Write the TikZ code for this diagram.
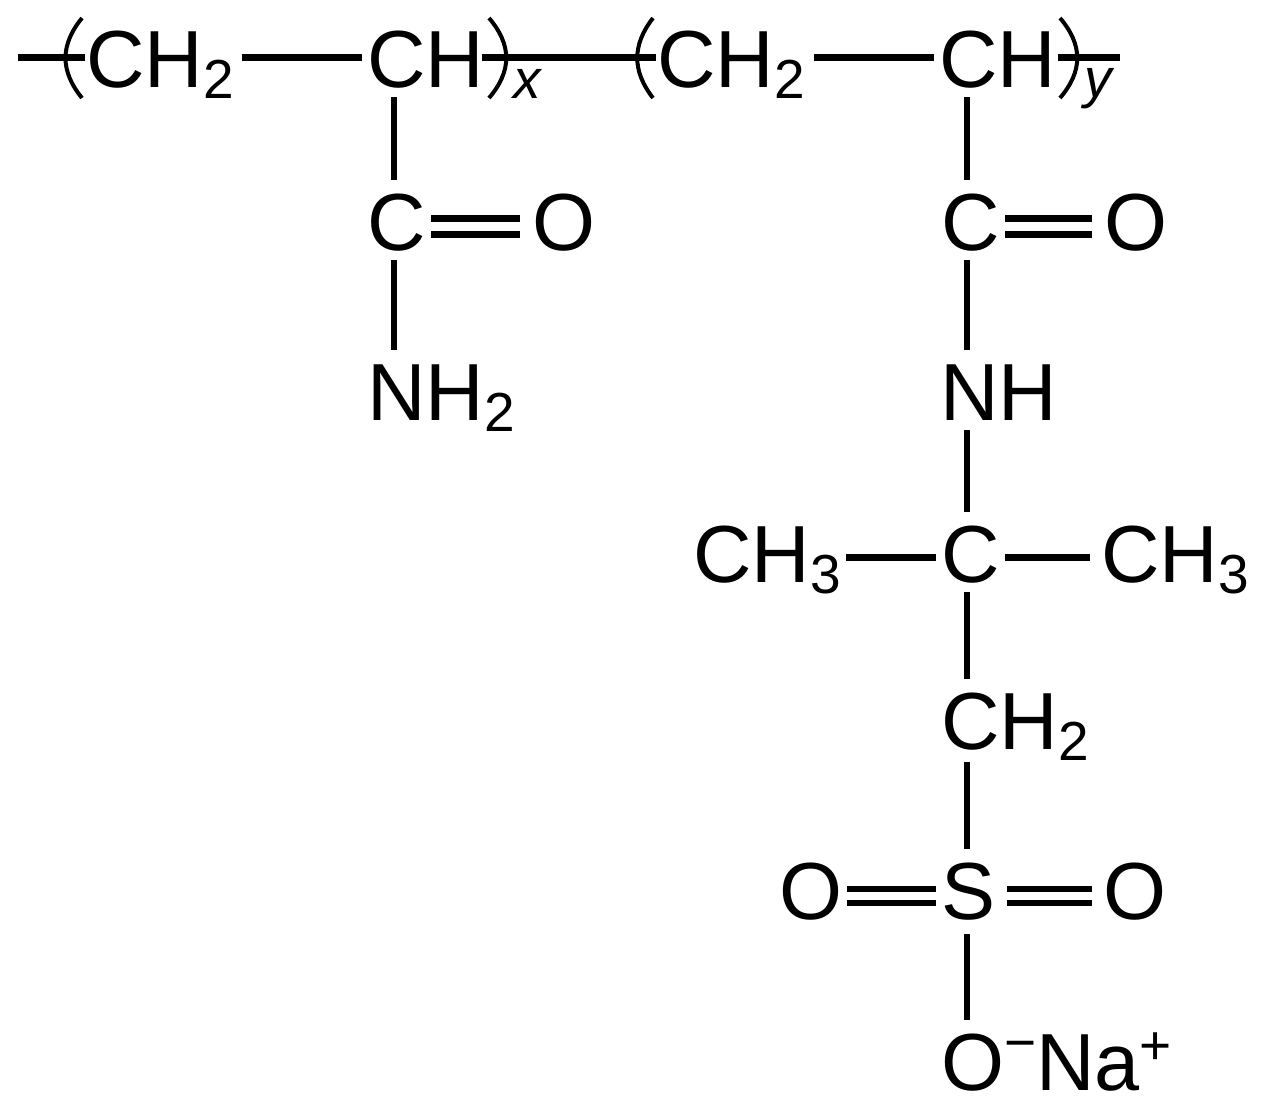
\documentclass[tikz,border=0pt]{standalone}
\usepackage{fontspec}
\setmainfont{Liberation Sans}
\newcommand{\lowtwo}[1]{\raisebox{-11pt}{\fontsize{55}{55}\selectfont #1}}
\newcommand{\hightwo}[2]{\raisebox{#1}{\fontsize{55}{55}\selectfont #2}}
\tikzset{
  atom/.style={anchor=base west,inner ysep=0pt,inner xsep=5pt,text height=70pt,text depth=10pt,font=\fontsize{81}{81}\selectfont},
  repeatlabel/.style={anchor=base west,inner sep=0pt,font=\fontsize{55}{55}\selectfont\itshape},
  hbond/.style={line width=7pt,black},
  vbond/.style={line width=5.5pt,black},
  dblA/.style={line width=7pt,double,double distance=9pt,black},
  dblB/.style={line width=6pt,double,double distance=8pt,black},
  paren/.style={line width=4pt,black}
}
\begin{document}
\begin{tikzpicture}[x=1pt,y=-1pt]
\useasboundingbox (0,0) rectangle (1266,1117);
\fill[white] (0,0) rectangle (1266,1117);
% row 1
\node[atom] (chtwoa) at (81,87) {CH\lowtwo{2}};
\node[atom] (cha) at (362,87) {CH};
\node[atom] (chtwob) at (652,87) {CH\lowtwo{2}};
\node[atom] (chb) at (934,87) {CH};
\node[repeatlabel] (labx) at (513,98) {x};
\node[repeatlabel] (laby) at (1084,97) {y};
% row 2
\node[atom] (ca) at (362,250) {C};
\node[atom] (oa) at (527,250) {O};
\node[atom] (cb) at (936,250) {C};
\node[atom] (ob) at (1099,250) {O};
% row 3
\node[atom] (nhtwo) at (362,420) {NH\lowtwo{2}};
\node[atom] (nh) at (935,420) {NH};
% row 4
\node[atom] (methl) at (688,582) {CH\lowtwo{3}};
\node[atom] (cc) at (936,582) {C};
\node[atom] (methr) at (1096,582) {CH\lowtwo{3}};
% rows 5-7
\node[atom] (chtwoc) at (936,749) {CH\lowtwo{2}};
\node[atom] (ol) at (774,919) {O};
\node[atom] (sul) at (936,919) {S};
\node[atom] (or) at (1098,919) {O};
\node[atom] (ona) at (936,1090) {O\hightwo{29pt}{−}Na\hightwo{26pt}{+}};
% free ends
\coordinate (tailL) at (18,57);
\coordinate (tailR) at (1120,57);
% parentheses
\coordinate (pa) at (82,18); \coordinate (pb) at (82,98);
\coordinate (pc) at (489,18); \coordinate (pd) at (489,98);
\coordinate (pe) at (653,18); \coordinate (pf) at (653,98);
\coordinate (pg) at (1060,18); \coordinate (ph) at (1060,98);
\draw[paren] (pa) .. controls (60,45) and (60,71) .. (pb);
\draw[paren] (pc) .. controls (512,45) and (512,71) .. (pd);
\draw[paren] (pe) .. controls (632,45) and (632,71) .. (pf);
\draw[paren] (pg) .. controls (1083,45) and (1083,71) .. (ph);
% backbone
\draw[hbond,shorten >=-4pt] (tailL) -- (chtwoa.west);
\draw[hbond,shorten <=3pt] (chtwoa.east) -- (cha.west);
\draw[hbond,shorten <=-7pt,shorten >=-4pt] (cha.east) -- (chtwob.west);
\draw[hbond,shorten <=4pt] (chtwob.east) -- (chb.west);
\draw[hbond,shorten <=-3pt] (chb.east) -- (tailR);
% left side chain
\draw[vbond] ([xshift=32pt]cha.south west) -- ([xshift=32pt]ca.north west);
\draw[dblA,shorten >=7pt] ([yshift=-6pt]ca.east) -- ([yshift=-6pt]oa.west);
\draw[vbond] ([xshift=32pt]ca.south west) -- ([xshift=32pt]nhtwo.north west);
% right side chain
\draw[vbond] ([xshift=33pt]chb.south west) -- ([xshift=31pt]cb.north west);
\draw[dblA,shorten >=7pt] ([yshift=-6pt]cb.east) -- ([yshift=-6pt]ob.west);
\draw[vbond] ([xshift=31pt]cb.south west) -- ([xshift=32pt]nh.north west);
\draw[vbond] ([xshift=32pt]nh.south west) -- ([xshift=31pt]cc.north west);
\draw[hbond] ([yshift=-5pt]methl.east) -- ([yshift=-5pt]cc.west);
\draw[hbond,shorten >=6pt] ([yshift=-5pt]cc.east) -- ([yshift=-5pt]methr.west);
\draw[vbond] ([xshift=31pt]cc.south west) -- ([xshift=31pt]chtwoc.north west);
\draw[vbond] ([xshift=31pt,yshift=-3pt]chtwoc.south west) -- ([xshift=31pt]sul.north west);
\draw[dblB] ([yshift=-7pt]ol.east) -- ([yshift=-7pt]sul.west);
\draw[dblB,shorten <=7pt,shorten >=6pt] ([yshift=-7pt]sul.east) -- ([yshift=-7pt]or.west);
\draw[vbond] ([xshift=31pt,yshift=-5pt]sul.south west) -- ([xshift=31pt]ona.north west);
\end{tikzpicture}
\end{document}
